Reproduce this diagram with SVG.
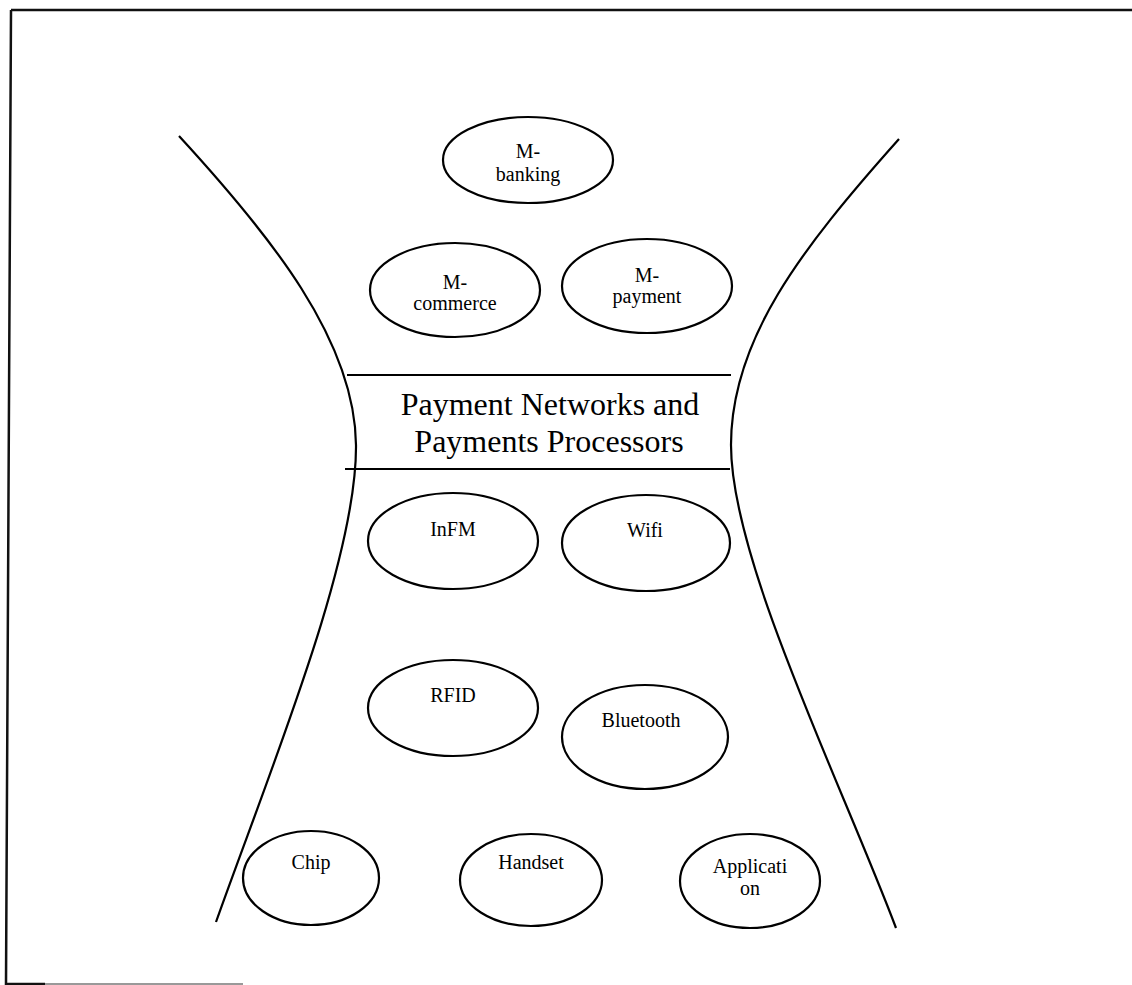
<svg xmlns="http://www.w3.org/2000/svg" width="1132" height="985" viewBox="0 0 1132 985">
<style>
.node ellipse{fill:none;stroke:#000;stroke-width:2.2}
.lbl{font-family:"Liberation Serif","Times New Roman",serif;font-size:20px;fill:#000;text-anchor:middle}
.title{font-family:"Liberation Serif","Times New Roman",serif;font-size:32px;fill:#000;text-anchor:middle}
.curve{fill:none;stroke:#000;stroke-width:2.2}
.border{fill:none;stroke:#111;stroke-width:2.5}
</style>
<rect width="1132" height="985" fill="#fff"/>
<g id="frame">
<path class="border" d="M11,10 H1132 M11,10 L6,984 H45"/>
<path d="M45,984 H243" stroke="#999" stroke-width="2" fill="none"/>
</g>
<g id="funnel">
<path class="curve" d="M179,136 C270,235 355,340 356,445 C357,560 270,770 216,922"/>
<path class="curve" d="M899,139 C800,250 731,340 731,445 C731,560 840,780 896,928"/>
</g>
<g id="band">
<line x1="347" y1="375" x2="731" y2="375" stroke="#000" stroke-width="2"/>
<line x1="345" y1="469" x2="730" y2="469" stroke="#000" stroke-width="2"/>
<text class="title" x="550" y="415">Payment Networks and</text>
<text class="title" x="549" y="452">Payments Processors</text>
</g>
<g id="m-banking" class="node"><ellipse cx="528" cy="160" rx="85" ry="43"/><text class="lbl" x="528" y="158">M-</text><text class="lbl" x="528" y="181">banking</text></g>
<g id="m-commerce" class="node"><ellipse cx="455" cy="290" rx="85" ry="47"/><text class="lbl" x="455" y="289">M-</text><text class="lbl" x="455" y="310">commerce</text></g>
<g id="m-payment" class="node"><ellipse cx="647" cy="286" rx="85" ry="47"/><text class="lbl" x="647" y="282">M-</text><text class="lbl" x="647" y="303">payment</text></g>
<g id="infm" class="node"><ellipse cx="453" cy="541" rx="85" ry="48"/><text class="lbl" x="453" y="536">InFM</text></g>
<g id="wifi" class="node"><ellipse cx="646" cy="543" rx="84" ry="48"/><text class="lbl" x="645" y="537">Wifi</text></g>
<g id="rfid" class="node"><ellipse cx="453" cy="708" rx="85" ry="48"/><text class="lbl" x="453" y="702">RFID</text></g>
<g id="bluetooth" class="node"><ellipse cx="645" cy="737" rx="83" ry="52"/><text class="lbl" x="641" y="727">Bluetooth</text></g>
<g id="chip" class="node"><ellipse cx="311" cy="878" rx="68" ry="47"/><text class="lbl" x="311" y="869">Chip</text></g>
<g id="handset" class="node"><ellipse cx="531" cy="880" rx="71" ry="46"/><text class="lbl" x="531" y="869">Handset</text></g>
<g id="application" class="node"><ellipse cx="750" cy="881" rx="70" ry="47"/><text class="lbl" x="750" y="873">Applicati</text><text class="lbl" x="750" y="895">on</text></g>
</svg>
